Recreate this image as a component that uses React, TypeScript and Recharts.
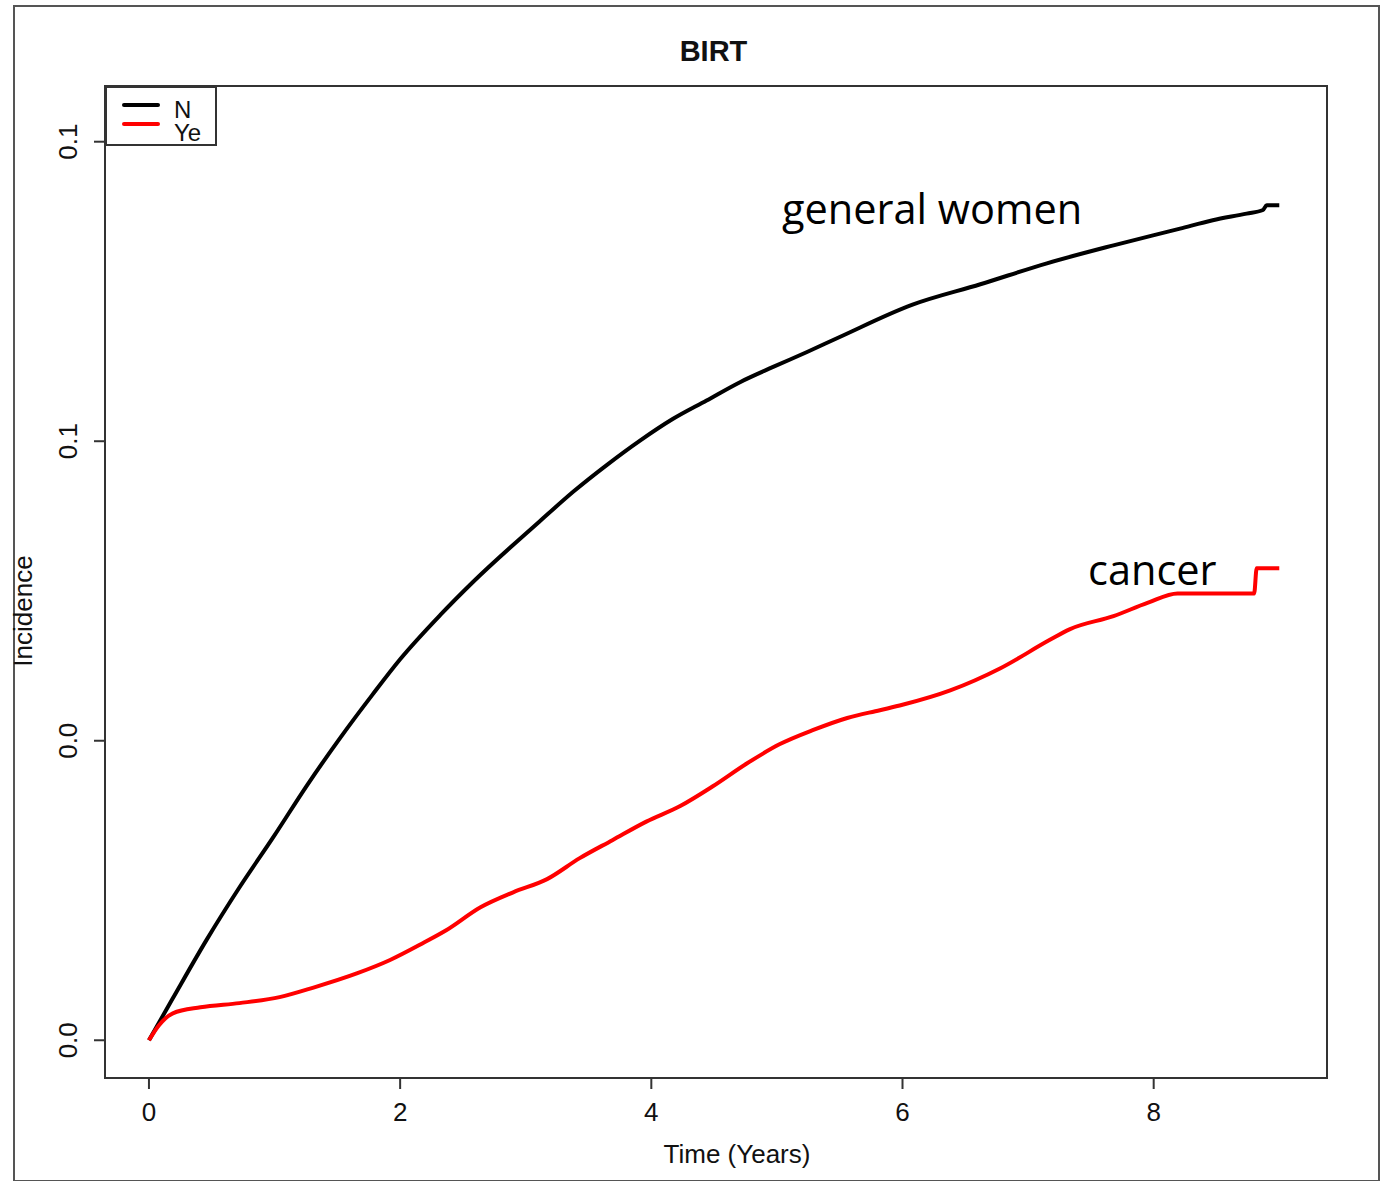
import React from 'react';
import {
  LineChart,
  Line,
  XAxis,
  YAxis,
  Legend,
  ReferenceArea,
  Label,
} from 'recharts';

// ── Data ──────────────────────────────────────────────────────────────────────
const generalTime = [
  0, 0.19, 0.46, 0.72, 0.99, 1.26, 1.52, 1.78, 2.0, 2.32, 2.58, 3.11, 3.38,
  3.65, 3.91, 4.17, 4.44, 4.71, 4.97, 5.24, 5.5, 6.08, 6.62, 7.15, 7.68, 8.21,
  8.47, 8.74, 8.87, 8.9, 9.0,
];
const generalIncidence = [
  0, 0.007, 0.0168, 0.0255, 0.0339, 0.0426, 0.0504, 0.0577, 0.0636, 0.071,
  0.0765, 0.0866, 0.0916, 0.0961, 0.1001, 0.1037, 0.1068, 0.1099, 0.1124,
  0.1149, 0.1174, 0.1228, 0.1262, 0.1297, 0.1327, 0.1355, 0.1369, 0.138,
  0.1386, 0.1394, 0.1394,
];

const cancerTime = [
  0, 0.08, 0.19, 0.41, 0.72, 1.04, 1.31, 1.66, 1.92, 2.18, 2.37, 2.64, 2.9,
  3.17, 3.43, 3.69, 3.96, 4.23, 4.49, 4.76, 5.02, 5.29, 5.56, 5.82, 6.0, 6.38,
  6.78, 7.17, 7.33, 7.68, 7.95, 8.19, 8.8, 8.82, 9.0,
];
const cancerIncidence = [
  0, 0.0025, 0.0045, 0.0055, 0.0062, 0.0072, 0.0088, 0.0112, 0.0134, 0.0162,
  0.0184, 0.0222, 0.0247, 0.0269, 0.0304, 0.0334, 0.0365, 0.0391, 0.0424,
  0.0462, 0.0494, 0.0518, 0.0538, 0.0551, 0.056, 0.0584, 0.0621, 0.0668,
  0.0686, 0.0708, 0.073, 0.0746, 0.0746, 0.0788, 0.0788,
];

const xTicks = [0, 2, 4, 6, 8];
const yTicks = [0, 0.05, 0.1, 0.15];
const yTickLabels = ['0.0', '0.0', '0.1', '0.1'];

// ── Constants ─────────────────────────────────────────────────────────────────
const FONT = "'Liberation Sans', Arial, sans-serif";
const NOTE_FONT = "'Open Sans', 'Noto Sans', sans-serif";
const AXIS_GREY = '#333';
const X_DOMAIN: [number, number] = [-0.35, 9.38];
const Y_DOMAIN: [number, number] = [-0.0063, 0.1593];

const generalData = generalTime.map((t, i) => ({ t, v: generalIncidence[i] }));
const cancerData = cancerTime.map((t, i) => ({ t, v: cancerIncidence[i] }));

// ── Rotated y tick, like R's default ─────────────────────────────────────────
function YTick({ x, y, index }: { x?: number; y?: number; index?: number }) {
  if (x === undefined || y === undefined || index === undefined) return <g />;
  return (
    <text
      x={x}
      y={y}
      transform={`rotate(-90 ${x} ${y})`}
      textAnchor="middle"
      fontFamily={FONT}
      fontSize={26}
      fill="#111"
    >
      {yTickLabels[index]}
    </text>
  );
}

// ── Legend box ────────────────────────────────────────────────────────────────
function LegendBox({ payload }: { payload?: { value: string; color?: string }[] }) {
  if (!payload) return null;
  return (
    <div
      style={{
        width: 108,
        height: 56,
        border: `2px solid ${AXIS_GREY}`,
        background: '#fff',
        position: 'relative',
        boxSizing: 'content-box',
      }}
    >
      {payload.map((p, i) => (
        <div key={p.value}>
          <div
            style={{
              position: 'absolute',
              left: 15,
              top: 15 + i * 19,
              width: 38,
              height: 4,
              borderRadius: 2,
              background: p.color,
            }}
          />
          <div
            style={{
              position: 'absolute',
              left: 67,
              top: i === 0 ? 12 : 35,
              fontFamily: FONT,
              fontSize: 24,
              lineHeight: '20px',
              height: 20,
              color: '#111',
            }}
          >
            {p.value}
          </div>
        </div>
      ))}
    </div>
  );
}

// ── Component ─────────────────────────────────────────────────────────────────
export default function App() {
  return (
    <div
      style={{
        position: 'absolute',
        left: 0,
        top: 0,
        width: 1384,
        height: 1181,
        background: '#fff',
        overflow: 'hidden',
      }}
    >
      {/* outer frame */}
      <div
        style={{
          position: 'absolute',
          left: 13,
          top: 5,
          width: 1363,
          height: 1173,
          border: '2px solid #555',
        }}
      />
      <div
        style={{
          position: 'absolute',
          left: 0,
          top: 35,
          width: 1427,
          textAlign: 'center',
          fontFamily: FONT,
          fontWeight: 'bold',
          fontSize: 29,
          color: '#111',
        }}
      >
        BIRT
      </div>
      <div style={{ position: 'absolute', left: 0, top: 0 }}>
        <LineChart
          width={1384}
          height={1181}
          margin={{ top: 86, right: 57, bottom: 0, left: 0 }}
        >
          <XAxis
            type="number"
            dataKey="t"
            domain={X_DOMAIN}
            ticks={xTicks}
            allowDataOverflow
            axisLine={false}
            tickSize={11}
            tickMargin={14}
            tickLine={{ stroke: AXIS_GREY, strokeWidth: 2 }}
            tick={{ fill: '#111', fontSize: 26, fontFamily: FONT }}
            height={103}
          >
            <Label
              content={({ viewBox }: any) => (
                <text
                  x={737}
                  y={viewBox.y + 85}
                  textAnchor="middle"
                  fontFamily={FONT}
                  fontSize={26}
                  fill="#111"
                >
                  Time (Years)
                </text>
              )}
            />
          </XAxis>
          <YAxis
            type="number"
            domain={Y_DOMAIN}
            ticks={yTicks}
            allowDataOverflow
            axisLine={false}
            tickSize={11}
            tickMargin={17}
            tickLine={{ stroke: AXIS_GREY, strokeWidth: 2 }}
            tick={<YTick />}
            width={105}
          >
            <Label
              content={({ viewBox }: any) => {
                const x = viewBox.x + 32;
                const y = 611;
                return (
                  <text
                    x={x}
                    y={y}
                    transform={`rotate(-90 ${x} ${y})`}
                    textAnchor="middle"
                    fontFamily={FONT}
                    fontSize={26}
                    fill="#111"
                  >
                    Incidence
                  </text>
                );
              }}
            />
          </YAxis>
          <ReferenceArea
            x1={X_DOMAIN[0]}
            x2={X_DOMAIN[1]}
            y1={Y_DOMAIN[0]}
            y2={Y_DOMAIN[1]}
            fill="none"
            stroke={AXIS_GREY}
            strokeWidth={2}
            ifOverflow="visible"
          />
          <Legend
            layout="vertical"
            verticalAlign="middle"
            align="center"
            content={<LegendBox />}
            wrapperStyle={{ position: 'absolute', left: 105, top: 86, width: 112, height: 60 }}
          />
          <Line
            data={generalData}
            dataKey="v"
            name="N"
            type="monotone"
            stroke="#000"
            strokeWidth={4}
            dot={false}
            isAnimationActive={false}
          />
          <Line
            data={cancerData}
            dataKey="v"
            name="Ye"
            type="monotone"
            stroke="#ff0000"
            strokeWidth={4}
            dot={false}
            isAnimationActive={false}
          />
        </LineChart>
      </div>
      <div
        style={{
          position: 'absolute',
          left: 782,
          top: 180,
          fontFamily: NOTE_FONT,
          fontSize: 41.5,
          color: '#000',
          whiteSpace: 'nowrap',
        }}
      >
        general women
      </div>
      <div
        style={{
          position: 'absolute',
          left: 1088,
          top: 541,
          fontFamily: NOTE_FONT,
          fontSize: 41.5,
          color: '#000',
          whiteSpace: 'nowrap',
        }}
      >
        cancer
      </div>
    </div>
  );
}
